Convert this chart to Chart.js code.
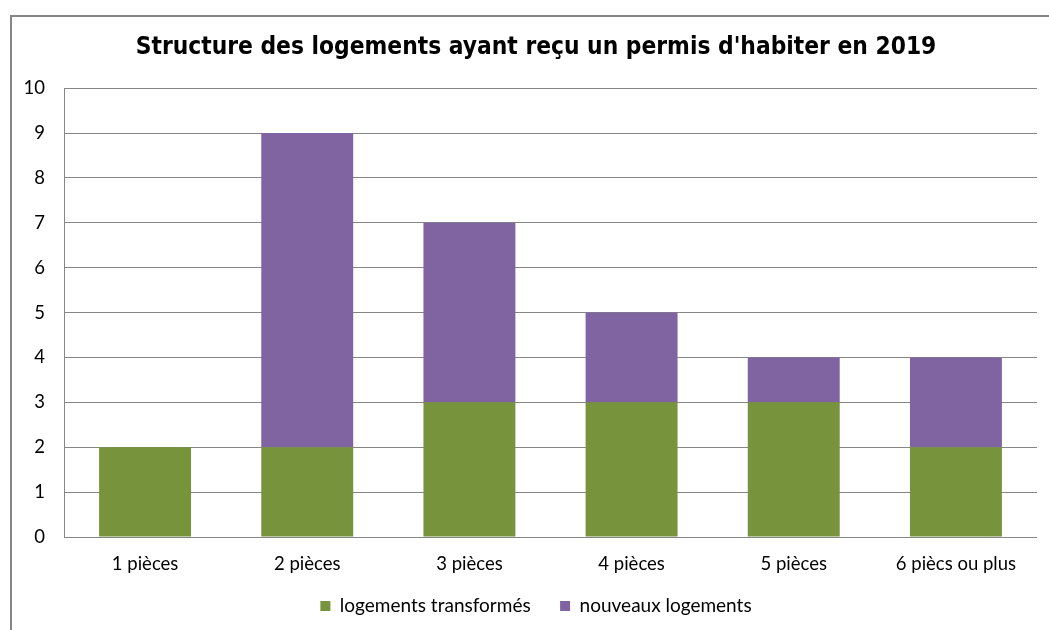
<!DOCTYPE html>
<html>
<head>
<meta charset="utf-8">
<script src="https://cdn.jsdelivr.net/npm/chart.js@4/dist/chart.umd.min.js"></script>
<style>
html,body{margin:0;padding:0;width:1049px;height:630px;overflow:hidden;background:#fff;}
#frame{position:absolute;left:10px;top:15px;width:1100px;height:700px;border-left:2px solid #868686;border-top:2px solid #868686;box-sizing:border-box;}
#wrap{position:absolute;left:0;top:0;width:1049px;height:630px;}
</style>
</head>
<body>
<div id="frame"></div>
<div id="wrap"><canvas id="c" width="1049" height="630"></canvas></div>
<script>
const categories = ['1 pi\u00e8ces', '2 pi\u00e8ces', '3 pi\u00e8ces', '4 pi\u00e8ces', '5 pi\u00e8ces', '6 pi\u00e8cs ou plus'];
const logementsTransformes = [2, 2, 3, 3, 3, 2];
const nouveauxLogements = [0, 7, 4, 2, 1, 2];
const yTicks = [0, 1, 2, 3, 4, 5, 6, 7, 8, 9, 10];
const titleText = "Structure des logements ayant re\u00e7u un permis d'habiter en 2019";
const seriesNames = ['logements transform\u00e9s', 'nouveaux logements'];

const tickFont = {family: 'Lato, "Open Sans", sans-serif', size: 18.5};
const legendFont = {family: 'Lato, "Open Sans", sans-serif', size: 19};

new Chart(document.getElementById('c'), {
  type: 'bar',
  data: {
    labels: categories,
    datasets: [
      {label: seriesNames[0], data: logementsTransformes, backgroundColor: '#77933C', borderWidth: 0},
      {label: seriesNames[1], data: nouveauxLogements, backgroundColor: '#8064A2', borderWidth: 0}
    ]
  },
  options: {
    responsive: false,
    animation: false,
    devicePixelRatio: 1,
    layout: {padding: {left: 23, right: 0, top: 0, bottom: 4.5}},
    datasets: {bar: {categoryPercentage: 1, barPercentage: 0.567}},
    plugins: {
      title: {display: true, text: titleText, color: '#000',
        font: {family: '"DejaVu Sans Condensed", "DejaVu Sans", sans-serif', size: 24.3, weight: 'bold'},
        padding: {top: 33, bottom: 26}},
      legend: {position: 'bottom',
        labels: {color: '#000', font: legendFont, boxWidth: 10, boxHeight: 10, padding: 10,
          generateLabels: chart => {
            const items = Chart.defaults.plugins.legend.labels.generateLabels(chart);
            items.forEach((it, i) => { if (i < items.length - 1) it.text = it.text + '    '; });
            return items;
          }}},
      tooltip: {enabled: false}
    },
    scales: {
      x: {stacked: true,
        grid: {display: false},
        border: {display: false},
        ticks: {color: '#000', font: tickFont, padding: 8, maxRotation: 0},
        afterFit: s => { s.height = 49.5; }
      },
      y: {stacked: true, min: 0, max: 10,
        afterBuildTicks: s => { s.ticks = yTicks.map(v => ({value: v})); },
        grid: {color: '#868686', drawTicks: false, lineWidth: 1},
        border: {display: true, color: '#868686', width: 1},
        ticks: {color: '#000', font: tickFont, padding: 19, stepSize: 1},
        afterFit: s => { s.width = 41; }
      },
      yPad: {position: 'right', display: true,
        grid: {display: false, drawTicks: false},
        border: {display: false},
        ticks: {display: false},
        afterFit: s => { s.width = 12; }
      }
    }
  }
});
</script>
</body>
</html>
